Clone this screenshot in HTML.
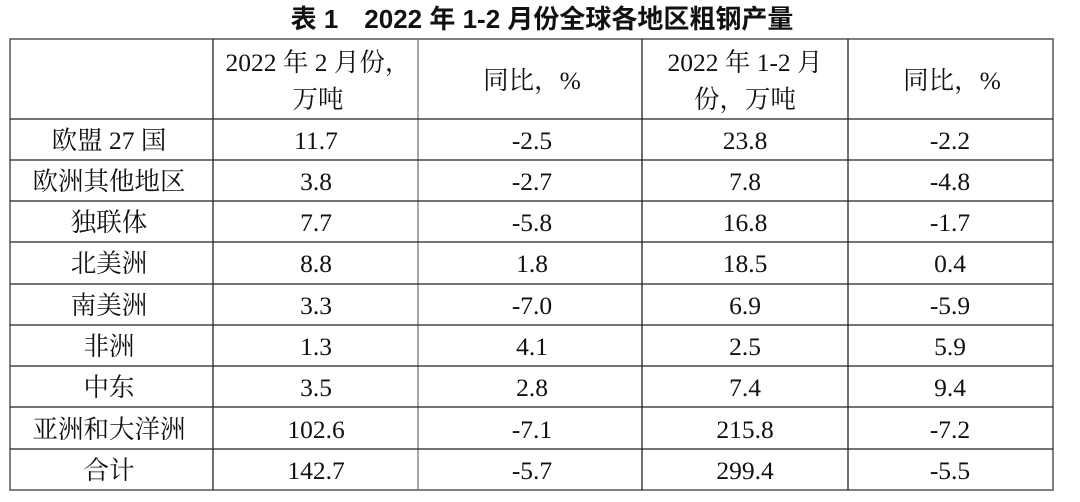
<!DOCTYPE html>
<html><head><meta charset="utf-8"><style>
html,body{margin:0;padding:0;background:#fff;}
svg{display:block;}
.t{font-family:"Liberation Serif","Noto Serif CJK SC",serif;font-size:25.5px;fill:#111;text-anchor:middle;}
.h{font-family:"Liberation Sans","Noto Sans CJK SC",sans-serif;font-size:26px;font-weight:bold;fill:#111;text-anchor:middle;}
</style></head><body>
<svg width="1080" height="502" viewBox="0 0 1080 502">
<text class="h" x="542" y="28">表 1　2022 年 1-2 月份全球各地区粗钢产量</text>
<g stroke="#222" stroke-width="1.3" fill="none">
<rect x="10" y="39" width="1043" height="451" stroke="#555" stroke-width="1.5"/>
<line x1="213" y1="39" x2="213" y2="490"/>
<line x1="418" y1="39" x2="418" y2="490" stroke="#777"/>
<line x1="642" y1="39" x2="642" y2="490"/>
<line x1="848" y1="39" x2="848" y2="490"/>
<line x1="10" y1="119" x2="1053" y2="119"/>
<line x1="10" y1="160" x2="1053" y2="160"/>
<line x1="10" y1="201" x2="1053" y2="201"/>
<line x1="10" y1="242" x2="1053" y2="242"/>
<line x1="10" y1="284" x2="1053" y2="284"/>
<line x1="10" y1="325" x2="1053" y2="325"/>
<line x1="10" y1="366" x2="1053" y2="366"/>
<line x1="10" y1="407" x2="1053" y2="407"/>
<line x1="10" y1="449" x2="1053" y2="449"/>
</g>
<text class="t" x="318" y="71">2022 年 2 月份，</text>
<text class="t" x="318" y="108">万吨</text>
<text class="t" x="532" y="89">同比，%</text>
<text class="t" x="745" y="71">2022 年 1-2 月</text>
<text class="t" x="745" y="108">份，万吨</text>
<text class="t" x="952" y="89">同比，%</text>
<g>
<text class="t" x="109" y="149">欧盟 27 国</text><text class="t" x="316" y="149">11.7</text><text class="t" x="532" y="149">-2.5</text><text class="t" x="745" y="149">23.8</text><text class="t" x="950" y="149">-2.2</text>
<text class="t" x="109" y="190">欧洲其他地区</text><text class="t" x="316" y="190">3.8</text><text class="t" x="532" y="190">-2.7</text><text class="t" x="745" y="190">7.8</text><text class="t" x="950" y="190">-4.8</text>
<text class="t" x="109" y="231">独联体</text><text class="t" x="316" y="231">7.7</text><text class="t" x="532" y="231">-5.8</text><text class="t" x="745" y="231">16.8</text><text class="t" x="950" y="231">-1.7</text>
<text class="t" x="109" y="272">北美洲</text><text class="t" x="316" y="272">8.8</text><text class="t" x="532" y="272">1.8</text><text class="t" x="745" y="272">18.5</text><text class="t" x="950" y="272">0.4</text>
<text class="t" x="109" y="314">南美洲</text><text class="t" x="316" y="314">3.3</text><text class="t" x="532" y="314">-7.0</text><text class="t" x="745" y="314">6.9</text><text class="t" x="950" y="314">-5.9</text>
<text class="t" x="109" y="355">非洲</text><text class="t" x="316" y="355">1.3</text><text class="t" x="532" y="355">4.1</text><text class="t" x="745" y="355">2.5</text><text class="t" x="950" y="355">5.9</text>
<text class="t" x="109" y="396">中东</text><text class="t" x="316" y="396">3.5</text><text class="t" x="532" y="396">2.8</text><text class="t" x="745" y="396">7.4</text><text class="t" x="950" y="396">9.4</text>
<text class="t" x="109" y="438">亚洲和大洋洲</text><text class="t" x="316" y="438">102.6</text><text class="t" x="532" y="438">-7.1</text><text class="t" x="745" y="438">215.8</text><text class="t" x="950" y="438">-7.2</text>
<text class="t" x="109" y="479">合计</text><text class="t" x="316" y="479">142.7</text><text class="t" x="532" y="479">-5.7</text><text class="t" x="745" y="479">299.4</text><text class="t" x="950" y="479">-5.5</text>
</g>
</svg>
</body></html>
